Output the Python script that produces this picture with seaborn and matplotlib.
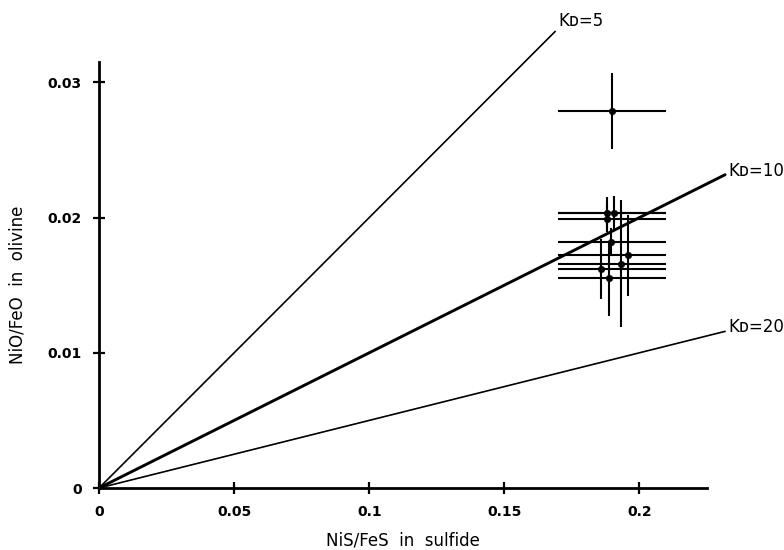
import matplotlib
matplotlib.use("Agg")
import matplotlib.pyplot as plt
import seaborn as sns
import numpy as np
import pandas as pd

# ---- data ----
x_vals = [0.1897, 0.1859, 0.1881, 0.1881, 0.1889, 0.1896, 0.1907, 0.1933, 0.1959]
y_vals = [0.0279, 0.0162, 0.0203, 0.0199, 0.0155, 0.0182, 0.0203, 0.0166, 0.0172]
x_lo = [0.170, 0.170, 0.170, 0.170, 0.170, 0.170, 0.170, 0.170, 0.170]
x_hi = [0.210, 0.210, 0.210, 0.210, 0.210, 0.210, 0.210, 0.210, 0.210]
y_err = [0.0028, 0.0022, 0.0012, 0.0010, 0.0028, 0.0010, 0.0013, 0.0047, 0.0030]

kd_values = [5, 10, 20]
kd_end_x = [0.1688, 0.2317, 0.2317]
kd_widths = [1.2, 2.1, 1.2]
kd_labels = ["Kᴅ=5", "Kᴅ=10", "Kᴅ=20"]

x_ticks = [0, 0.05, 0.1, 0.15, 0.2]
x_ticklabels = ["0", "0.05", "0.1", "0.15", "0.2"]
y_ticks = [0, 0.01, 0.02, 0.03]
y_ticklabels = ["0", "0.01", "0.02", "0.03"]

sns.set_style("ticks")
plt.rcParams["font.family"] = ["DejaVu Sans"]
plt.rcParams["text.color"] = "black"
plt.rcParams["axes.labelcolor"] = "black"
plt.rcParams["xtick.color"] = "black"
plt.rcParams["ytick.color"] = "black"
plt.rcParams["axes.edgecolor"] = "black"

fig = plt.figure(figsize=(7.84, 5.5), dpi=100)
ax = fig.add_axes([0.1263, 0.1127, 0.7755, 0.7745])

# Kd lines
for kd, xe, lw in zip(kd_values, kd_end_x, kd_widths):
    d = pd.DataFrame({"x": [0.0, xe], "y": [0.0, xe / kd]})
    sns.lineplot(data=d, x="x", y="y", ax=ax, color="black", linewidth=lw,
                 clip_on=False, legend=False)

# Kd labels
ax.text(0.1700, 0.0345, kd_labels[0], fontsize=12, ha="left", va="center",
        color="black", clip_on=False)
ax.text(0.2328, kd_end_x[1] / 10 + 0.0003, kd_labels[1], fontsize=12, ha="left",
        va="center", color="black", clip_on=False)
ax.text(0.2328, kd_end_x[2] / 20 + 0.0003, kd_labels[2], fontsize=12, ha="left",
        va="center", color="black", clip_on=False)

# error bars
xv = np.array(x_vals)
xerr = np.vstack([xv - np.array(x_lo), np.array(x_hi) - xv])
ax.errorbar(x_vals, y_vals, xerr=xerr, yerr=y_err, fmt="none",
            ecolor="black", elinewidth=1.5, capsize=0)
pts = pd.DataFrame({"x": x_vals, "y": y_vals})
sns.scatterplot(data=pts, x="x", y="y", ax=ax, color="black", s=22,
                edgecolor="black", zorder=5)

ax.set_xlim(0, 0.225)
ax.set_ylim(0, 0.0315)
ax.set_xticks(x_ticks)
ax.set_xticklabels(x_ticklabels, fontweight="bold")
ax.set_yticks(y_ticks)
ax.set_yticklabels(y_ticklabels, fontweight="bold")
ax.tick_params(direction="inout", length=9, width=1.6, labelsize=10, pad=8)
for s in ["top", "right"]:
    ax.spines[s].set_visible(False)
for s in ["left", "bottom"]:
    ax.spines[s].set_linewidth(2)
ax.set_xlabel("NiS/FeS  in  sulfide", fontsize=12, labelpad=9)
ax.set_ylabel("NiO/FeO  in  olivine", fontsize=12)
ax.yaxis.set_label_coords(-0.12, 0.476)

fig.savefig("out.png", dpi=100)
